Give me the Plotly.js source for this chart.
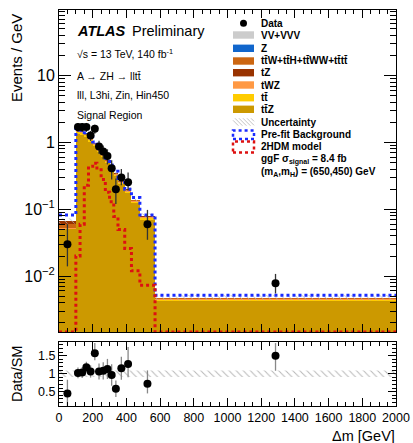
<!DOCTYPE html>
<html>
<head>
<meta charset="utf-8">
<script src="https://cdn.plot.ly/plotly-3.0.1.min.js"></script>
<style>html,body{margin:0;padding:0;background:#fff;}#plot{width:413px;height:443px;}</style>
</head>
<body>
<div id="plot"></div>
<script>
// ---------------- data ----------------
const binEdges = [0,100,125,150,175,200,225,250,275,300,325,350,390,430,480,570,2000];

// stacked backgrounds (Events / GeV), bottom to top
const ttZ   = [0.050,1.33,1.30,1.20,1.03,0.88,0.72,0.60,0.495,0.39,0.31,0.238,0.176,0.123,0.070,0.0043];
const ttbar = [0.001,0.11,0.10,0.08,0.06,0.045,0.035,0.028,0.022,0.016,0.012,0.009,0.007,0.005,0.003,0.0001];
const tWZ   = [0.002,0.04,0.038,0.035,0.032,0.028,0.024,0.020,0.016,0.013,0.011,0.009,0.007,0.005,0.003,0.0002];
const ttW   = [0.007,0.03,0.028,0.025,0.022,0.019,0.016,0.013,0.011,0.009,0.008,0.006,0.005,0.004,0.002,0.0001];
const tZ    = [0.006,0.02,0.019,0.018,0.016,0.014,0.012,0.010,0.008,0.006,0.005,0.004,0.003,0.002,0.001,0.00005];
const Zjets = [0.0005,0.01,0.008,0.006,0.005,0.004,0.003,0.002,0.002,0.001,0.001,0.001,0.0005,0.0005,0.0003,0.00002];
const VV    = [0.001,0.01,0.007,0.006,0.005,0.004,0.003,0.002,0.002,0.001,0.001,0.001,0.0005,0.0005,0.0003,0.00002];

const relUnc = [0.09,0.07,0.07,0.07,0.07,0.07,0.08,0.08,0.08,0.08,0.09,0.09,0.09,0.09,0.09,0.09];

const prefit = [0.082,1.60,1.52,1.40,1.20,1.02,0.84,0.70,0.58,0.46,0.37,0.29,0.20,0.15,0.082,0.0052];
const signal = [0,0.020,0.060,0.23,0.44,0.49,0.39,0.28,0.18,0.13,0.078,0.050,0.026,0.012,0.0073,0];

const dataVal     = [0.030,1.70,1.70,1.70,1.27,1.60,0.87,0.73,0.63,0.41,0.20,0.30,0.254,null,0.060,0.0078];
const dataErrUp   = [0.030,0.26,0.26,0.26,0.22,0.25,0.19,0.17,0.16,0.13,0.09,0.10,0.10,null,0.038,0.0030];
const dataErrDown = [0.016,0.26,0.26,0.26,0.22,0.25,0.19,0.17,0.16,0.13,0.08,0.07,0.06,null,0.025,0.0023];

const ratioVal     = [0.45,1.02,1.03,1.18,1.06,1.57,1.06,1.08,1.13,0.96,0.58,1.15,1.27,null,0.72,1.50];
const ratioErrUp   = [0.38,0.15,0.15,0.15,0.17,0.28,0.22,0.24,0.28,0.30,0.23,0.32,0.47,null,0.37,0.35];
const ratioErrDown = [0.40,0.15,0.15,0.14,0.17,0.20,0.22,0.24,0.28,0.30,0.23,0.32,0.37,null,0.27,0.42];

const procNames  = ["VV+VVV","Z","t\u0074\u0304W+t\u0074\u0304H+t\u0074\u0304WW+t\u0074\u0304t\u0074\u0304","tZ","tWZ","t\u0074\u0304","t\u0074\u0304Z"];
const procColors = ["#cccccc","#1166cc","#cc6611","#993300","#ff9944","#ffcc00","#cc9900"];

const yTickVals = [0.01,0.1,1,10];
const yTickText = ["10<sup>\u22122</sup>","10<sup>\u22121</sup>","1","10"];
const yMain = [0.00146, 96];
const rRange = [0.1, 1.88];

// ---------------- helpers ----------------
const W = 413, H = 443;
const px = x => x / W;
const py = y => 1 - y / H;
const nB = binEdges.length - 1;
const centers = [], widths = [];
for (let i = 0; i < nB; i++) { centers.push((binEdges[i] + binEdges[i+1]) / 2); widths.push(binEdges[i+1] - binEdges[i]); }
const stepY = arr => arr.concat([arr[arr.length - 1]]);
const total = centers.map((_, i) => ttZ[i]+ttbar[i]+tWZ[i]+ttW[i]+tZ[i]+Zjets[i]+VV[i]);

function bandPoly(lo, hi) {
  const xs = [], ys = [];
  for (let i = 0; i < nB; i++) { xs.push(binEdges[i], binEdges[i+1]); ys.push(hi[i], hi[i]); }
  for (let i = nB - 1; i >= 0; i--) { xs.push(binEdges[i+1], binEdges[i]); ys.push(lo[i], lo[i]); }
  return {xs, ys};
}

const font = "Liberation Sans, Arial, Helvetica, sans-serif";
const traces = [];

// stacked bars (bottom -> top)
const stackOrder = [[ttZ,"#cc9900"],[ttbar,"#ffcc00"],[tWZ,"#ff9944"],[ttW,"#cc6611"],[tZ,"#993300"],[Zjets,"#1166cc"],[VV,"#cccccc"]];
stackOrder.forEach(([vals, col]) => {
  traces.push({type:"bar", x:centers, y:vals, width:widths, xaxis:"x", yaxis:"y",
    marker:{color:col, line:{width:0}}, showlegend:false, hoverinfo:"skip"});
});

// uncertainty hatch (main)
const up = total.map((t,i) => t*(1+relUnc[i])), dn = total.map((t,i) => t*(1-relUnc[i]));
const bp = bandPoly(dn, up);
traces.push({type:"scatter", mode:"lines", x:bp.xs, y:bp.ys, xaxis:"x", yaxis:"y", fill:"toself",
  fillcolor:"rgba(0,0,0,0)", line:{width:0}, fillpattern:{shape:"\\", fgcolor:"#b0b0b0", bgcolor:"rgba(255,255,255,0)", size:5, solidity:0.15},
  showlegend:false, hoverinfo:"skip"});

// prefit background
traces.push({type:"scatter", mode:"lines", x:binEdges, y:stepY(prefit), xaxis:"x", yaxis:"y",
  line:{shape:"hv", color:"#1a2cff", width:3, dash:"dot"}, showlegend:false, hoverinfo:"skip"});

// signal
const sigPlot = signal.map(v => v > 0 ? v : yMain[0]);
traces.push({type:"scatter", mode:"lines", x:binEdges, y:stepY(sigPlot), xaxis:"x", yaxis:"y",
  line:{shape:"hv", color:"#dd1111", width:3, dash:"dot"}, showlegend:false, hoverinfo:"skip", cliponaxis:true});

// data
traces.push({type:"scatter", mode:"markers", x:centers, y:dataVal, xaxis:"x", yaxis:"y",
  marker:{color:"black", size:8},
  error_y:{type:"data", symmetric:false, array:dataErrUp, arrayminus:dataErrDown, color:"#333", thickness:1.3, width:0},
  showlegend:false, hoverinfo:"skip"});

// ratio band
const rUp = relUnc.map(u => 1+u), rDn = relUnc.map(u => 1-u);
const rb = bandPoly(rDn, rUp);
traces.push({type:"scatter", mode:"lines", x:rb.xs, y:rb.ys, xaxis:"x2", yaxis:"y2", fill:"toself",
  fillcolor:"rgba(0,0,0,0)", line:{width:0}, fillpattern:{shape:"\\", fgcolor:"#b8b8b8", bgcolor:"rgba(255,255,255,0)", size:5, solidity:0.2},
  showlegend:false, hoverinfo:"skip"});

// ratio data
traces.push({type:"scatter", mode:"markers", x:centers, y:ratioVal, xaxis:"x2", yaxis:"y2",
  marker:{color:"black", size:8}, cliponaxis:true,
  error_y:{type:"data", symmetric:false, array:ratioErrUp, arrayminus:ratioErrDown, color:"#888", thickness:1.3, width:0},
  showlegend:false, hoverinfo:"skip"});

// minor tick positions for log axis
const minorLog = [];
for (let d = -3; d <= 1; d++) for (let k = 2; k <= 9; k++) minorLog.push(k * Math.pow(10, d));

const xDom = [px(59), px(396)];
const axCommon = {showline:true, linecolor:"black", linewidth:1, mirror:"ticks", showgrid:false, zeroline:false,
  ticks:"inside", tickcolor:"black", tickwidth:1};

// ---------------- annotations & legend ----------------
const ann = [];
const shapes = [];
function txt(t, x, y, size, opts) {
  ann.push(Object.assign({text:t, x:px(x), y:py(y), xref:"paper", yref:"paper", xanchor:"left", yanchor:"middle",
    showarrow:false, font:{family:font, size:size, color:"black"}}, opts || {}));
}
txt("<b><i>ATLAS</i></b>", 75, 31, 14.5);
txt("Preliminary", 130, 31, 14.5);
txt("\u221As = 13 TeV, 140 fb<sup>-1</sup>", 75, 53, 10.5);
txt("A \u2192 ZH \u2192 llt\u0074\u0304", 75, 76, 10.5);
txt("lll, L3hi, Zin, Hin450", 75, 95, 10.5);
txt("Signal Region", 75, 115, 10.5);

// axis titles
ann.push({text:"Events / GeV", x:px(16), y:py(12), xref:"paper", yref:"paper", xanchor:"center", yanchor:"top",
  textangle:-90, showarrow:false, font:{family:font, size:15, color:"black"}});
ann.push({text:"Data/SM", x:px(17), y:py(374), xref:"paper", yref:"paper", xanchor:"center", yanchor:"middle",
  textangle:-90, showarrow:false, font:{family:font, size:14.5, color:"black"}});
ann.push({text:"\u0394m [GeV]", x:px(397), y:py(436), xref:"paper", yref:"paper", xanchor:"right", yanchor:"middle",
  showarrow:false, font:{family:font, size:14.5, color:"black"}});

// legend
const lx0 = 233, lx1 = 254, ltx = 259;
const rowY = [23.3,35,48.3,61,72.7,85,97.7,109.3,122,134.7,147,159.3,172];
const lfs = 10;
shapes.push({type:"circle", xref:"paper", yref:"paper", x0:px(240), x1:px(247), y0:py(26.8), y1:py(19.8), fillcolor:"black", line:{width:0}});
txt("<b>Data</b>", ltx, rowY[0], lfs);
procNames.forEach((n, i) => {
  const y = rowY[i+1];
  shapes.push({type:"rect", xref:"paper", yref:"paper", x0:px(lx0), x1:px(lx1), y0:py(y+3.7), y1:py(y-3.7), fillcolor:procColors[i], line:{width:0}});
  txt("<b>" + n + "</b>", ltx, y, lfs);
});
// uncertainty legend (hatched box)
{
  const y = rowY[8];
  for (let k = 0; k < 6; k++) {
    const xa = lx0 + k*4 - 2;
    shapes.push({type:"line", xref:"paper", yref:"paper", x0:px(Math.max(xa, lx0)), y0:py(y-3.7 + Math.max(0, lx0-xa)),
      x1:px(Math.min(xa+7.4, lx1)), y1:py(y+3.7 - Math.max(0, xa+7.4-lx1)), line:{color:"#c4c4c4", width:1}});
  }
  txt("<b>Uncertainty</b>", ltx, y, lfs);
}
shapes.push({type:"rect", xref:"paper", yref:"paper", x0:px(lx0), x1:px(lx1), y0:py(rowY[9]+4.3), y1:py(rowY[9]-4.3),
  fillcolor:"rgba(0,0,0,0)", line:{color:"#1a2cff", width:2.5, dash:"dot"}});
txt("<b>Pre-fit Background</b>", ltx, rowY[9], lfs);
shapes.push({type:"rect", xref:"paper", yref:"paper", x0:px(lx0), x1:px(lx1), y0:py(rowY[10]+5.5), y1:py(rowY[10]-5.5),
  fillcolor:"rgba(0,0,0,0)", line:{color:"#dd1111", width:2.5, dash:"dot"}});
txt("<b>2HDM model</b>", ltx, rowY[10], lfs);
txt("<b>ggF \u03C3<sub>signal</sub> = 8.4 fb</b>", ltx, rowY[11], lfs);
txt("<b>(m<sub>A</sub>,m<sub>H</sub>) = (650,450) GeV</b>", ltx, rowY[12], lfs);

const layout = {
  width:W, height:H, autosize:false,
  margin:{l:0, r:0, t:0, b:0, pad:0},
  paper_bgcolor:"white", plot_bgcolor:"white",
  barmode:"stack", showlegend:false,
  font:{family:font, color:"black"},
  xaxis:Object.assign({}, axCommon, {domain:xDom, anchor:"y", range:[0,2000], tick0:0, dtick:200, ticklen:8,
    showticklabels:false, minor:{ticks:"inside", ticklen:4, dtick:50, tickcolor:"black", showgrid:false}}),
  yaxis:Object.assign({}, axCommon, {domain:[py(332), py(10)], anchor:"x", type:"log",
    range:[Math.log10(yMain[0]), Math.log10(yMain[1])], tickmode:"array", tickvals:yTickVals, ticktext:yTickText,
    ticklen:12, tickfont:{size:16, family:font}, minor:{ticks:"inside", ticklen:6, tickvals:minorLog, tickcolor:"black", showgrid:false}}),
  xaxis2:Object.assign({}, axCommon, {domain:xDom, anchor:"y2", range:[0,2000], tick0:0, dtick:200, ticklen:8,
    tickfont:{size:12.5, family:font}, minor:{ticks:"inside", ticklen:4, dtick:50, tickcolor:"black", showgrid:false}}),
  yaxis2:Object.assign({}, axCommon, {domain:[py(406), py(342)], anchor:"x2", range:rRange,
    tickmode:"array", tickvals:[0.5,1,1.5], ticktext:["0.5","1","1.5"], ticklen:8,
    tickfont:{size:12.5, family:font}, minor:{ticks:"inside", ticklen:4, dtick:0.1, tickcolor:"black", showgrid:false}}),
  annotations:ann,
  shapes:shapes
};

Plotly.newPlot("plot", traces, layout, {staticPlot:true, displayModeBar:false});
</script>
</body>
</html>
